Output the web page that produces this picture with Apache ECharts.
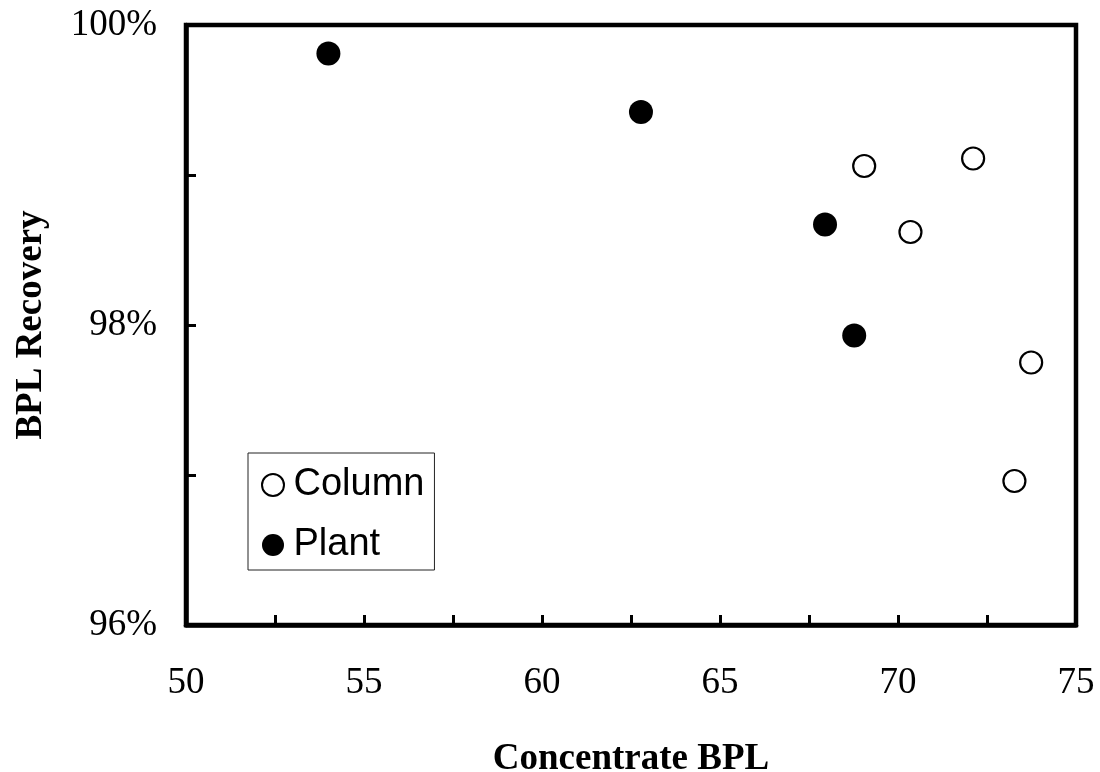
<!DOCTYPE html>
<html>
<head>
<meta charset="utf-8">
<script src="https://cdn.jsdelivr.net/npm/echarts@6/dist/echarts.min.js"></script>
<style>html,body{margin:0;padding:0;background:#fff;}#chart{width:1100px;height:772px;}</style>
</head>
<body>
<div id="chart"></div>
<script>
// Data
const columnX = [69.05, 72.11, 70.35, 73.74, 73.27];
const columnY = [99.06, 99.11, 98.62, 97.75, 96.96];
const plantX = [54.0, 62.78, 67.95, 68.77];
const plantY = [99.81, 99.42, 98.67, 97.93];
const seriesNames = ['Column', 'Plant'];
const xTitle = 'Concentrate BPL';
const yTitle = 'BPL Recovery';

const zip = (xs, ys) => xs.map((x, i) => [x, ys[i]]);
const serif = '"Liberation Serif", "Times New Roman", serif';
const sans = '"Liberation Sans", Arial, sans-serif';

const chart = echarts.init(document.getElementById('chart'));
chart.setOption({
  animation: false,
  backgroundColor: '#fff',
  grid: {
    left: 186, right: 24, top: 25, bottom: 147,
    containLabel: false, outerBoundsMode: 'none',
    show: true, borderColor: '#000', borderWidth: 4.5, backgroundColor: 'transparent'
  },
  legend: {
    orient: 'vertical',
    left: 248, top: 453,
    data: seriesNames,
    backgroundColor: '#fff',
    borderColor: '#222', borderWidth: 1,
    padding: [12, 10, 5, 13],
    itemWidth: 31, itemHeight: 22, symbolKeepAspect: true,
    itemGap: 20,
    textStyle: { fontFamily: sans, fontSize: 38, color: '#000', lineHeight: 40 }
  },
  xAxis: {
    type: 'value', min: 50, max: 75, interval: 2.5,
    name: xTitle, nameLocation: 'middle', nameGap: 116,
    nameTextStyle: { fontFamily: serif, fontSize: 37, fontWeight: 'bold', color: '#000' },
    axisLine: { show: true, lineStyle: { color: '#000', width: 4.5 } },
    axisTick: { show: true, inside: true, length: 10, lineStyle: { color: '#000', width: 3 } },
    axisLabel: {
      margin: 40, fontFamily: serif, fontSize: 37, color: '#000',
      formatter: v => (Math.abs(v % 5) < 1e-9 ? String(v) : '')
    },
    splitLine: { show: false }
  },
  yAxis: {
    type: 'value', min: 96, max: 100, interval: 1,
    name: yTitle, nameLocation: 'middle', nameGap: 136,
    nameTextStyle: { fontFamily: serif, fontSize: 37, fontWeight: 'bold', color: '#000' },
    axisLine: { show: true, lineStyle: { color: '#000', width: 4.5 } },
    axisTick: { show: true, inside: true, length: 10, lineStyle: { color: '#000', width: 3 } },
    axisLabel: {
      margin: 29, fontFamily: serif, fontSize: 37, color: '#000',
      formatter: v => (Math.abs(v % 2) < 1e-9 ? v + '%' : '')
    },
    splitLine: { show: false }
  },
  series: [
    {
      name: seriesNames[0], type: 'scatter', symbol: 'circle', symbolSize: 22,
      data: zip(columnX, columnY),
      itemStyle: { color: '#fff', borderColor: '#000', borderWidth: 2.2, opacity: 1 }
    },
    {
      name: seriesNames[1], type: 'scatter', symbol: 'circle', symbolSize: 24,
      data: zip(plantX, plantY),
      itemStyle: { color: '#000', opacity: 1 }
    }
  ]
});
</script>
</body>
</html>
